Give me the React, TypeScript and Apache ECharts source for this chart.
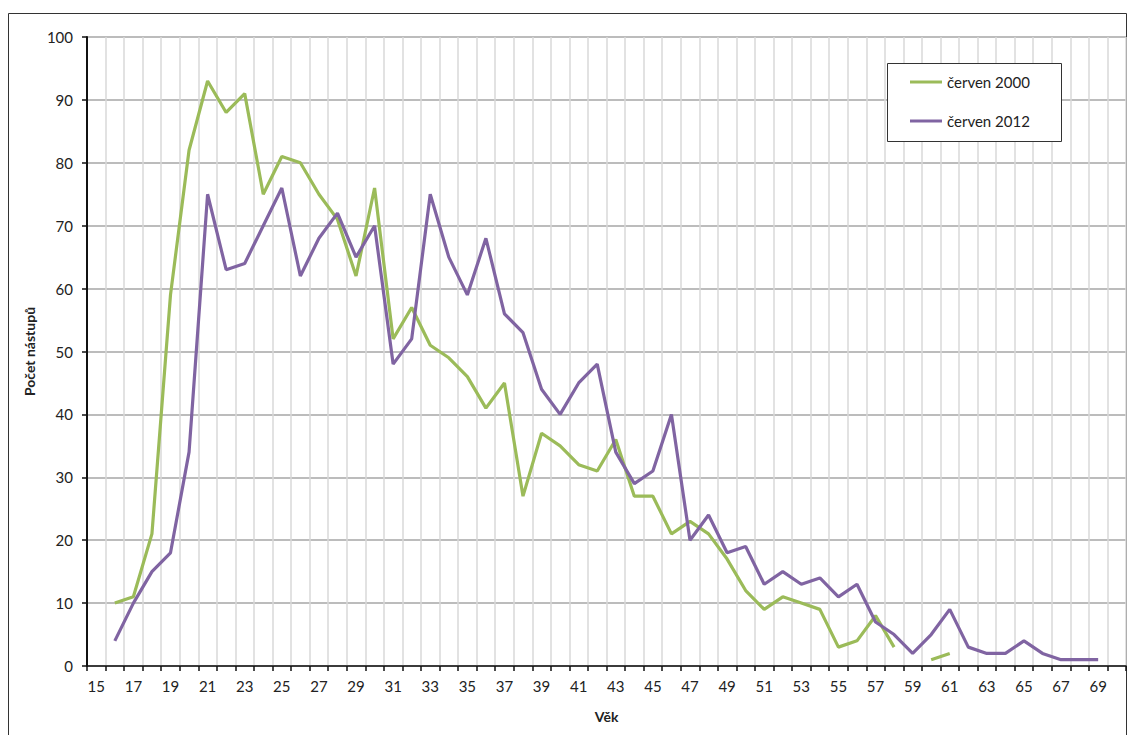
import React, { useEffect, useRef } from "react";
import * as echarts from "echarts";

const ages: string[] = [];
for (let a = 15; a <= 70; a++) ages.push(String(a));

// values for ages 15..70 (null = no data)
const cerven2000: (number | null)[] = [
  null, 10, 11, 21, 59, 82, 93, 88, 91, 75, 81, 80, 75, 71, 62, 76, 52, 57, 51, 49,
  46, 41, 45, 27, 37, 35, 32, 31, 36, 27, 27, 21, 23, 21, 17, 12, 9, 11, 10, 9,
  3, 4, 8, 3, null, 1, 2, null, null, null, null, null, null, null, null, null,
];
const cerven2012: (number | null)[] = [
  null, 4, 10, 15, 18, 34, 75, 63, 64, 70, 76, 62, 68, 72, 65, 70, 48, 52, 75, 65,
  59, 68, 56, 53, 44, 40, 45, 48, 34, 29, 31, 40, 20, 24, 18, 19, 13, 15, 13, 14,
  11, 13, 7, 5, 2, 5, 9, 3, 2, 2, 4, 2, 1, 1, 1, null,
];
const yTicks = { min: 0, max: 100, interval: 10 };
const seriesNames = ["červen 2000", "červen 2012"];
const colors = ["#9BBB59", "#8064A2"];
const xTitle = "Věk";
const yTitle = "Počet nástupů";

const FONT = "Lato, 'Open Sans', sans-serif";

export default function App() {
  const ref = useRef<HTMLDivElement>(null);
  useEffect(() => {
    document.body.style.margin = "0";
    const chart = echarts.init(ref.current!, null, { renderer: "svg" });
    chart.setOption({
      animation: false,
      backgroundColor: "#ffffff",
      textStyle: { fontFamily: FONT },
      grid: { left: 87, right: 2, top: 37, bottom: 69, containLabel: false },
      graphic: [
        {
          type: "rect",
          shape: { x: 8.5, y: 13.5, width: 1118, height: 760 },
          style: { fill: "none", stroke: "#333", lineWidth: 1 },
          silent: true,
          z: 0,
        },
        {
          type: "rect",
          shape: { x: 887.5, y: 63.5, width: 174, height: 78 },
          style: { fill: "#ffffff", stroke: "#333", lineWidth: 1 },
          silent: true,
          z: 10,
        },
      ],
      legend: {
        orient: "vertical",
        left: 910,
        top: 73,
        padding: 0,
        itemGap: 21,
        itemWidth: 32,
        itemHeight: 3,
        icon: "rect",
        z: 20,
        textStyle: { fontFamily: FONT, fontSize: 15, color: "#222", lineHeight: 18 },
        data: seriesNames,
      },
      xAxis: {
        type: "category",
        data: ages,
        boundaryGap: true,
        name: xTitle,
        nameLocation: "middle",
        nameGap: 43,
        nameTextStyle: { fontFamily: FONT, fontSize: 14, fontWeight: "bold", color: "#222" },
        axisLine: { lineStyle: { color: "#111", width: 1.5 } },
        axisTick: { show: true, interval: 0, length: 5, lineStyle: { color: "#111", width: 1.5 } },
        axisLabel: { interval: 1, fontSize: 15, color: "#222", margin: 12, fontFamily: FONT },
        splitLine: { show: true, interval: 0, lineStyle: { color: "#d9d9d9", width: 1.5 } },
      },
      yAxis: {
        type: "value",
        min: yTicks.min,
        max: yTicks.max,
        interval: yTicks.interval,
        name: yTitle,
        nameLocation: "middle",
        nameGap: 50,
        nameTextStyle: { fontFamily: FONT, fontSize: 14, fontWeight: "bold", color: "#222" },
        axisLine: { show: true, lineStyle: { color: "#111", width: 2 } },
        axisTick: { show: true, length: 5, lineStyle: { color: "#111", width: 1.5 } },
        axisLabel: { fontSize: 15, color: "#222", margin: 14, fontFamily: FONT },
        splitLine: { show: true, lineStyle: { color: "#a6a6a6", width: 1.5 } },
      },
      series: [
        {
          name: seriesNames[0],
          type: "line",
          data: cerven2000,
          showSymbol: false,
          symbol: "none",
          connectNulls: false,
          lineStyle: { color: colors[0], width: 3.2 },
          itemStyle: { color: colors[0] },
          z: 3,
        },
        {
          name: seriesNames[1],
          type: "line",
          data: cerven2012,
          showSymbol: false,
          symbol: "none",
          connectNulls: false,
          lineStyle: { color: colors[1], width: 3.2 },
          itemStyle: { color: colors[1] },
          z: 4,
        },
      ],
    });
    return () => chart.dispose();
  }, []);
  return <div ref={ref} style={{ width: 1128, height: 735 }} />;
}
